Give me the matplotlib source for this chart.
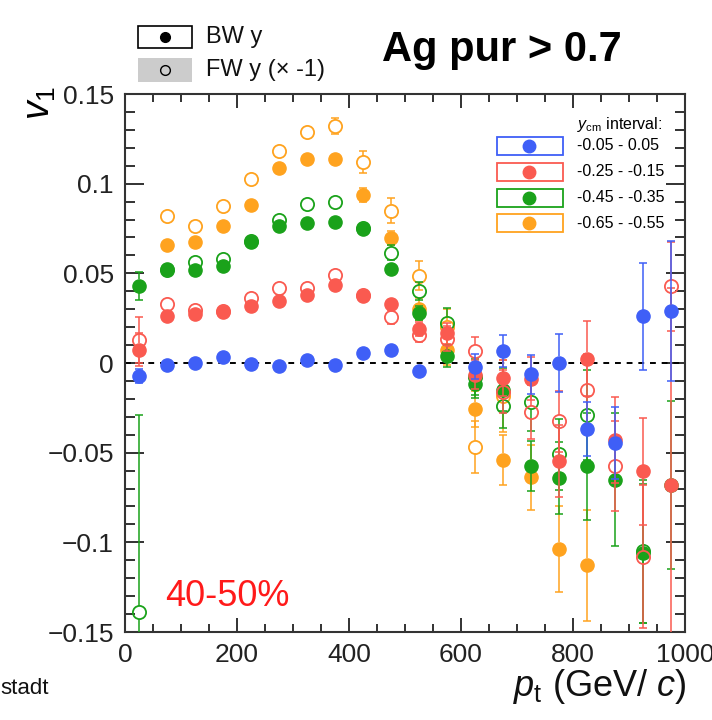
import numpy as np
import matplotlib.pyplot as plt
from matplotlib.patches import Rectangle

plt.rcParams['font.family'] = ['Liberation Sans', 'DejaVu Sans']
plt.rcParams['mathtext.fontset'] = 'custom'
plt.rcParams['mathtext.rm'] = 'Liberation Sans'
plt.rcParams['mathtext.it'] = 'Liberation Sans:italic'

nan = np.nan
pt_bins = np.arange(25, 1000, 50)

# BW (filled) and FW x(-1) (open) v1 values per rapidity interval
bw_blue = [-0.0074, -0.001, 0.0, 0.0035, -0.0003, -0.0018, 0.0016, -0.0012, 0.0053, 0.0072,
           -0.0046, nan, -0.002, 0.0066, -0.0064, 0.0, -0.0366, -0.0445, 0.026, 0.029]
bw_blue_err = [0.004, 0.001, 0.001, 0.001, 0.001, 0.001, 0.001, 0.001, 0.002, 0.003,
               0.003, nan, 0.007, 0.009, 0.011, 0.016, 0.015, 0.02, 0.030, 0.039]

bw_red = [0.0075, 0.026, 0.0274, 0.0284, 0.032, 0.0345, 0.038, 0.0436, 0.0373, 0.033,
          0.019, 0.0165, -0.0065, -0.0083, -0.0088, -0.0545, 0.0025, -0.0428, -0.0605, -0.068]
bw_red_err = [0.009, 0.001, 0.001, 0.001, 0.001, 0.001, 0.001, 0.002, 0.002, 0.003,
              0.004, 0.006, 0.008, 0.010, 0.012, 0.02, 0.021, 0.024, 0.030, 0.11]
fw_red = [0.0129, 0.033, 0.0293, 0.029, 0.036, 0.042, 0.042, 0.049, 0.038, 0.0255,
          0.0155, 0.0135, 0.0066, -0.016, -0.0275, -0.0326, -0.0148, -0.0573, -0.108, 0.0427]
fw_red_err = [0.0127, 0.001, 0.001, 0.001, 0.001, 0.001, 0.002, 0.002, 0.002, 0.004,
              0.004, 0.007, 0.008, 0.012, 0.015, 0.017, 0.02, 0.025, 0.04, 0.025]

bw_green = [0.043, 0.0526, 0.0517, 0.054, 0.0675, 0.0763, 0.0778, 0.0787, 0.0746, 0.0526,
            0.028, 0.0038, -0.0115, -0.0148, -0.0574, -0.064, -0.0577, -0.065, -0.1062, -0.068]
bw_green_err = [0.0077, 0.001, 0.001, 0.001, 0.001, 0.001, 0.001, 0.002, 0.002, 0.003,
                0.004, 0.006, 0.008, 0.012, 0.014, 0.02, 0.03, 0.037, 0.039, 0.047]
fw_green = [-0.139, 0.052, 0.0563, 0.0578, 0.068, 0.0796, 0.0884, 0.0899, 0.0755, 0.0616,
            0.040, 0.0225, -0.008, -0.024, -0.022, -0.051, -0.029, nan, -0.105, nan]
fw_green_err = [0.11, 0.001, 0.001, 0.001, 0.001, 0.002, 0.002, 0.002, 0.003, 0.004,
                0.005, 0.008, 0.01, 0.012, 0.016, 0.02, 0.025, nan, 0.04, nan]

bw_orange = [nan, 0.066, 0.0675, 0.0765, 0.088, 0.1085, 0.1136, 0.1136, 0.0936, 0.0698,
             0.030, 0.007, -0.0257, -0.054, -0.0637, -0.1035, -0.1127, nan, nan, nan]
bw_orange_err = [nan, 0.002, 0.002, 0.002, 0.002, 0.002, 0.002, 0.002, 0.004, 0.004,
                 0.006, 0.008, 0.01, 0.014, 0.018, 0.024, 0.031, nan, nan, nan]
fw_orange = [nan, 0.082, 0.0765, 0.0877, 0.1028, 0.118, 0.129, 0.132, 0.112, 0.085,
             0.0486, 0.020, -0.0466, -0.0186, nan, nan, nan, nan, nan, nan]
fw_orange_err = [nan, 0.002, 0.002, 0.002, 0.002, 0.002, 0.003, 0.0045, 0.006, 0.007,
                 0.008, 0.01, 0.0145, 0.02, nan, nan, nan, nan, nan, nan]

intervals = ['-0.05 - 0.05', '-0.25 - -0.15', '-0.45 - -0.35', '-0.65 - -0.55']
colors = ['#3f5ff7', '#fa5a50', '#1aa21a', '#ffa31f']

y_ticks = [-0.15, -0.1, -0.05, 0, 0.05, 0.1, 0.15]
y_ticklabels = ['\u22120.15', '\u22120.1', '\u22120.05', '0', '0.05', '0.1', '0.15']
x_ticks = [0, 200, 400, 600, 800, 1000]

W, H = 712, 720
fig = plt.figure(figsize=(W / 100, H / 100), dpi=100)
ax = fig.add_axes([125 / W, 1 - 632 / H, 560 / W, 538 / H])

MS = 9.5
R_DATA = 0.0037  # marker radius in v1 units, error lines start outside it


def px(x, y):
    return x / W, 1 - y / H


def draw_points(vals, errs, col, filled, z):
    x = pt_bins.astype(float)
    y = np.array(vals, dtype=float)
    e = np.array(errs, dtype=float)
    ok = ~np.isnan(y) & ~np.isnan(e) & (e > R_DATA)
    ax.vlines(x[ok], y[ok] + R_DATA, y[ok] + e[ok], color=col, lw=1.1, zorder=z)
    ax.vlines(x[ok], y[ok] - e[ok], y[ok] - R_DATA, color=col, lw=1.1, zorder=z)
    ax.plot(x[ok], y[ok] + e[ok], ls='none', marker='_', ms=6, mew=1.1, color=col, zorder=z)
    ax.plot(x[ok], y[ok] - e[ok], ls='none', marker='_', ms=6, mew=1.1, color=col, zorder=z)
    if filled:
        ax.plot(x, y, ls='none', marker='o', ms=MS, mfc=col, mec=col, zorder=z + 0.5)
    else:
        ax.plot(x, y, ls='none', marker='o', ms=MS, mfc='none', mec=col, mew=1.3,
                zorder=z + 0.5)


series = [
    (bw_orange, bw_orange_err, fw_orange, fw_orange_err, colors[3]),
    (bw_green, bw_green_err, fw_green, fw_green_err, colors[2]),
    (bw_red, bw_red_err, fw_red, fw_red_err, colors[1]),
    (bw_blue, bw_blue_err, None, None, colors[0]),
]
for k, (bw, bwe, fw, fwe, col) in enumerate(series):
    if fw is not None:
        draw_points(fw, fwe, col, False, 3 + k)
    draw_points(bw, bwe, col, True, 3 + k)

ax.axhline(0, color='black', ls=(0, (3, 3)), lw=1.4, zorder=2)

ax.set_xlim(0, 1000)
ax.set_ylim(-0.15, 0.15)
ax.set_xticks(x_ticks)
ax.set_xticks(np.arange(0, 1001, 50), minor=True)
ax.set_yticks(y_ticks)
ax.set_yticklabels(y_ticklabels)
ax.set_yticks(np.arange(-0.15, 0.1501, 0.01), minor=True)
ax.tick_params(axis='both', which='both', direction='in', top=True, right=True,
               labelsize=19, width=1.3, colors='#222222')
ax.tick_params(axis='x', which='major', length=10, pad=8)
ax.tick_params(axis='x', which='minor', length=5.5)
ax.tick_params(axis='y', which='major', length=14, pad=8)
ax.tick_params(axis='y', which='minor', length=7)
for s in ax.spines.values():
    s.set_linewidth(1.5)
    s.set_color('#333333')

# rapidity legend inside the frame
fig.text(*px(577, 124), r'$y_{\rm cm}$ interval:', fontsize=11.5, va='center', ha='left')
for i, (lab, col) in enumerate(zip(intervals, colors)):
    yc = 146 + i * 25.8
    x0, y0 = px(497, yc + 9)
    x1, y1 = px(563, yc - 9)
    fig.patches.append(Rectangle((x0, y0), x1 - x0, y1 - y0, transform=fig.transFigure,
                                 fill=False, edgecolor=col, lw=1.3, zorder=10))
    fig.lines.append(plt.Line2D([px(529, yc)[0]], [px(529, yc)[1]], marker='o', ms=9,
                                color=col, transform=fig.transFigure, zorder=11))
    fig.text(*px(577, yc), lab, fontsize=11.5, va='center', ha='left')

# BW / FW legend above the frame
x0, y0 = px(138, 48)
x1, y1 = px(192, 26)
fig.patches.append(Rectangle((x0, y0), x1 - x0, y1 - y0, transform=fig.transFigure,
                             facecolor='white', edgecolor='black', lw=1.2))
x0, y0 = px(138, 82)
x1, y1 = px(192, 58)
fig.patches.append(Rectangle((x0, y0), x1 - x0, y1 - y0, transform=fig.transFigure,
                             facecolor='#cccccc', edgecolor='none'))
fig.lines.append(plt.Line2D([px(165, 37)[0]], [px(165, 37)[1]], marker='o', ms=7,
                            color='black', transform=fig.transFigure))
fig.lines.append(plt.Line2D([px(165, 70)[0]], [px(165, 70)[1]], marker='o', ms=7,
                            mfc='none', mec='black', mew=1.0, transform=fig.transFigure))
fig.text(*px(206, 37), 'BW y', fontsize=17, va='center', ha='left', color='#111111')
fig.text(*px(206, 70), 'FW y (\u00d7 -1)', fontsize=17, va='center', ha='left', color='#111111')

fig.text(*px(502, 50), 'Ag pur > 0.7', fontsize=30, fontweight='bold', va='center', ha='center')

ax.text(72, -0.1355, '40-50%', fontsize=26, color='#ff1a1a', va='baseline', ha='left')

fig.text(*px(40, 103), r'$v_1$', fontsize=27, rotation=90, va='center', ha='center')
fig.text(*px(686, 686), r'$p_{\rm t}$ (GeV/ $c$)', fontsize=26, va='center', ha='right',
         color='#111111')
fig.text(*px(0, 688), 'stadt', fontsize=16, va='center', ha='left', color='#111111')

plt.savefig('out.png', dpi=100)
